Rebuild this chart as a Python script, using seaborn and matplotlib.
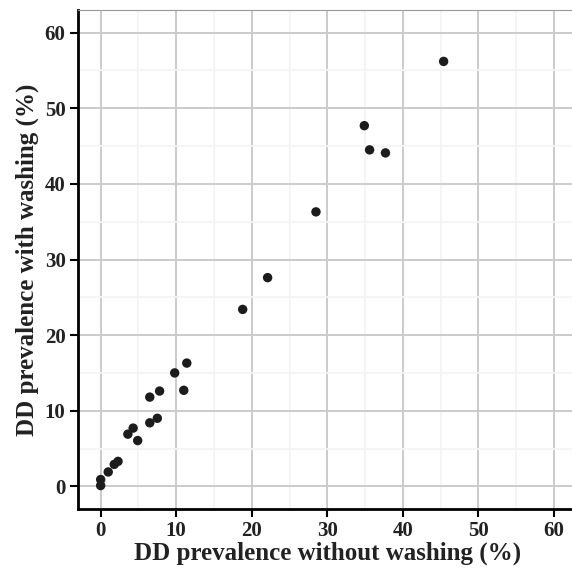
import matplotlib
matplotlib.use("Agg")
import matplotlib.pyplot as plt
import seaborn as sns
import pandas as pd
from matplotlib.ticker import MultipleLocator

# 读图估计的数据
without_washing = [0.0, 0.0, 1.0, 1.8, 2.3, 3.6, 4.3, 4.9, 6.5, 7.5, 6.5, 7.8,
                   9.8, 11.0, 11.4, 18.8, 22.1, 28.5, 34.9, 35.6, 37.7, 45.4]
with_washing = [0.9, 0.1, 1.9, 2.9, 3.3, 6.9, 7.7, 6.05, 8.4, 9.0, 11.8, 12.6,
                15.0, 12.7, 16.3, 23.4, 27.6, 36.3, 47.7, 44.5, 44.1, 56.2]
ticks = [0, 10, 20, 30, 40, 50, 60]

df = pd.DataFrame({"without": without_washing, "with": with_washing})

sns.set_style("white")
plt.rcParams["font.family"] = ["Liberation Serif", "DejaVu Serif"]
plt.rcParams["font.weight"] = "bold"

fig = plt.figure(figsize=(5.72, 5.69), dpi=100)
ax = fig.add_axes([78 / 572, 60 / 569, 498.6 / 572, 499 / 569])

ax.set_axisbelow(True)
ax.xaxis.set_minor_locator(MultipleLocator(5))
ax.yaxis.set_minor_locator(MultipleLocator(5))
ax.grid(which="minor", color="#f4f4f4", linewidth=1.3)
ax.grid(which="major", color="#cbcbcb", linewidth=1.4)

sns.scatterplot(data=df, x="without", y="with", ax=ax, color="#1c1c1c",
                s=46, edgecolor="none", zorder=3)

ax.set_xlim(-3, 63)
ax.set_ylim(-3, 63)
ax.set_xticks(ticks)
ax.set_yticks(ticks)
ax.tick_params(which="major", direction="out", length=6, width=1.5,
               color="black", labelsize=15, pad=3, bottom=True, left=True)
ax.tick_params(which="minor", length=0)
for lab in ax.get_xticklabels() + ax.get_yticklabels():
    lab.set_fontweight("bold")
    lab.set_color("#222222")

for side in ["left", "bottom"]:
    ax.spines[side].set_color("black")
    ax.spines[side].set_linewidth(2)
ax.spines["top"].set_color("#999999")
ax.spines["top"].set_linewidth(0.8)
ax.spines["right"].set_visible(False)

ax.set_xlabel("DD prevalence without washing (%)", fontsize=18,
              fontweight="bold", color="#222222", labelpad=0)
ax.set_ylabel("DD prevalence with washing (%)", fontsize=18,
              fontweight="bold", color="#222222", labelpad=4)

fig.savefig("out.png", dpi=100)
